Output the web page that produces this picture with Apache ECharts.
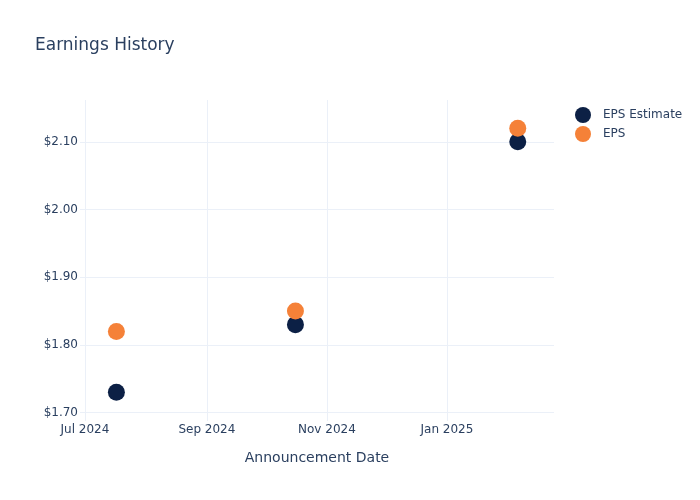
<!DOCTYPE html>
<html lang="en">
<head>
  <meta charset="UTF-8">
  <title>Earnings History</title>
  <style>
    * { margin: 0; padding: 0; }
    body { background: #ffffff; }
    #chart { width: 700px; height: 500px; }
  </style>
</head>
<body>
  <div id="chart"></div>

  <script src="https://cdn.jsdelivr.net/npm/echarts@6/dist/echarts.min.js"></script>
  <script type="text/javascript">
  // announcement dates and values
  var dates = ['2024-07-17', '2024-10-16', '2025-02-06'];
  var epsEstimate = [1.73, 1.83, 2.10];
  var eps = [1.82, 1.85, 2.12];

  var xTickDates = ['2024-07-01', '2024-09-01', '2024-11-01', '2025-01-01'];
  var xTickLabels = ['Jul 2024', 'Sep 2024', 'Nov 2024', 'Jan 2025'];
  var yTicks = [1.7, 1.8, 1.9, 2.0, 2.1];

  var textColor = '#2a3f5f';
  var gridColor = '#ebf0f8';
  var font = 'DejaVu Sans, sans-serif';

  function toTime (s) {
    var p = s.split('-');
    return Date.UTC(+p[0], +p[1] - 1, +p[2]);
  }

  function main () {
    var xTicks = xTickDates.map(toTime);
    var chart = echarts.init(document.getElementById('chart'));
    var option = {
      backgroundColor: '#ffffff',
      textStyle: { fontFamily: font },
      title: {
        text: 'Earnings History',
        left: 35, top: 37, padding: 0,
        textStyle: { fontSize: 17, fontWeight: 'normal', color: textColor, fontFamily: font }
      },
      legend: {
        orient: 'vertical',
        left: 575, top: 107, padding: 0,
        itemWidth: 16, itemHeight: 16, itemGap: 3,
        icon: 'circle',
        textStyle: { fontSize: 12, color: textColor, fontFamily: font, padding: [0, 0, 0, 7] },
        data: ['EPS Estimate', 'EPS']
      },
      grid: { left: 80, right: 146, top: 100, bottom: 79, containLabel: false },
      // dates on a numeric (ms) axis so the month ticks can be placed exactly
      xAxis: {
        type: 'value',
        min: toTime('2024-06-28') + 12 * 3600 * 1000,
        max: toTime('2025-02-24') + 10 * 3600 * 1000,
        name: 'Announcement Date',
        nameLocation: 'middle',
        nameGap: 30,
        nameTextStyle: { fontSize: 14, color: textColor, fontFamily: font },
        axisLine: { show: false },
        axisTick: { show: false, customValues: xTicks },
        axisLabel: {
          customValues: xTicks,
          fontSize: 12, color: textColor, margin: 3, fontFamily: font,
          formatter: function (v) {
            var i = xTicks.indexOf(v);
            return i >= 0 ? xTickLabels[i] : '';
          }
        },
        splitLine: { show: true, lineStyle: { color: gridColor, width: 1 } }
      },
      yAxis: {
        type: 'value',
        min: 1.6877,
        max: 2.1617,
        axisLine: { show: false },
        axisTick: { show: false, customValues: yTicks },
        axisLabel: {
          customValues: yTicks,
          fontSize: 12, color: textColor, margin: 2, fontFamily: font,
          formatter: function (v) { return '$' + v.toFixed(2); }
        },
        splitLine: { show: true, lineStyle: { color: gridColor, width: 1 } }
      },
      series: [
        {
          name: 'EPS Estimate',
          type: 'scatter',
          symbolSize: 17,
          itemStyle: { color: '#0c2045', opacity: 1 },
          data: dates.map(function (d, i) { return [toTime(d), epsEstimate[i]]; })
        },
        {
          name: 'EPS',
          type: 'scatter',
          symbolSize: 17,
          itemStyle: { color: '#f58138', opacity: 1 },
          data: dates.map(function (d, i) { return [toTime(d), eps[i]]; })
        }
      ]
    };
    chart.setOption(option);
  }

  window.addEventListener('load', main);
  </script>
</body>
</html>
